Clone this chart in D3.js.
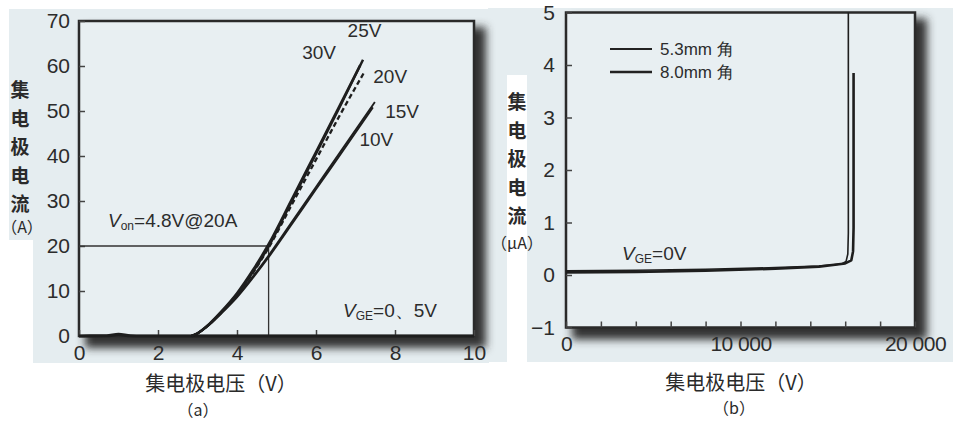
<!DOCTYPE html>
<html>
<head>
<meta charset="utf-8">
<script src="https://cdn.jsdelivr.net/npm/d3@7"></script>
<style>
  body { margin: 0; background: #fff; }
  text { font-family: "Liberation Sans", Arial, sans-serif; fill: #2c2c2c; }
  .cjk { font-family: "Noto Sans CJK SC", sans-serif; fill: #2a2a2a; }
</style>
</head>
<body>
<script>
// ---- data (a): collector current vs collector voltage, per gate voltage
let xTicksA = [0, 2, 4, 6, 8, 10]
let yTicksA = [0, 10, 20, 30, 40, 50, 60, 70]
let vge30 = [[2.85,0],[3.0,0.6],[3.3,2.7],[3.6,5.4],[4.0,9.5],[4.4,14.6],[4.8,20.4],[5.4,30.6],[6.0,40.9],[6.6,51.2],[7.12,60.2]]
let vge25 = [[2.85,0],[3.0,0.6],[3.3,2.6],[3.6,5.2],[4.0,9.2],[4.4,14.2],[4.8,19.9],[5.4,30.2],[6.0,40.5],[6.6,50.9],[7.19,61.4]]
let vge20 = [[2.85,0],[3.0,0.6],[3.3,2.6],[3.6,5.2],[4.0,9.1],[4.4,14],[4.8,19.6],[5.4,29.4],[6.0,39.2],[6.6,49],[7.22,58.6]]
let vge15 = [[2.85,0],[3.0,0.6],[3.3,2.6],[3.6,5.1],[4.0,8.8],[4.4,13.2],[4.8,17.9],[5.4,25.5],[6.0,33.1],[6.6,40.7],[7.49,52]]
let vge10 = [[2.85,0],[3.0,0.6],[3.3,2.5],[3.6,5],[4.0,8.6],[4.4,12.9],[4.8,17.5],[5.4,25],[6.0,32.6],[6.6,40.1],[7.44,50.8]]
let vge0 = [[0,0],[0.7,0.05],[1.0,0.35],[1.3,0.05],[1.6,0],[10,0]]
let curveLabels = [["30V",5.65,61.5],["25V",6.8,66.5],["20V",7.45,56.3],["15V",7.75,48.5],["10V",7.1,42.3]]
let vOn = 4.8, iOn = 20

// ---- data (b): leakage current vs collector voltage, two chip sizes
let xTicksB = [0, 2000, 4000, 6000, 8000, 10000, 12000, 14000, 16000, 18000, 20000]
let xLabelsB = [0, 10000, 20000]
let yTicksB = [-1, 0, 1, 2, 3, 4, 5]
let chip53 = [[0,0.08],[4000,0.09],[8000,0.11],[12000,0.14],[14500,0.17],[15800,0.21],[16050,0.26],[16150,0.4],[16180,0.8],[16180,5]]
let chip80 = [[0,0.05],[4000,0.06],[8000,0.08],[12000,0.12],[14500,0.16],[16000,0.22],[16350,0.28],[16450,0.45],[16480,0.9],[16480,3.85]]
let legendB = ["5.3mm 角", "8.0mm 角"]

let svg = d3.select("body").append("svg")
    .attr("width", 953)
    .attr("height", 422)

let defs = svg.append("defs")
defs.append("filter").attr("id", "shadow")
    .attr("x", "-10%").attr("y", "-10%").attr("width", "130%").attr("height", "130%")
  .append("feGaussianBlur").attr("stdDeviation", 4)

// scanned paper background
let paper = "#e5edf0"
svg.append("rect").attr("x", 9).attr("y", 9).attr("width", 480).attr("height", 354).attr("fill", paper)
svg.append("rect").attr("x", 0).attr("y", 240).attr("width", 33).attr("height", 130).attr("fill", "#fff")
svg.append("rect").attr("x", 488).attr("y", 8).attr("width", 465).attr("height", 354).attr("fill", paper)
svg.append("rect").attr("x", 507).attr("y", 75).attr("width", 20).attr("height", 300).attr("fill", "#fff")

let styleAxis = ax => {
  ax.select(".domain").remove()
  ax.selectAll("line").attr("stroke", "#444").attr("stroke-width", 1.5)
  ax.selectAll("text").attr("font-size", 21).attr("fill", "#3c3c3c")
    .attr("font-family", "Liberation Sans, Arial, sans-serif")
}

// ================= chart (a) =================
let xA = d3.scaleLinear().domain([0, 10]).range([79, 474])
let yA = d3.scaleLinear().domain([0, 70]).range([336, 21])

svg.append("rect")
    .attr("x", xA(0) + 6).attr("y", yA(70) + 6)
    .attr("width", xA(10) - xA(0) + 6).attr("height", yA(0) - yA(70) + 6)
    .attr("fill", "#333").attr("filter", "url(#shadow)")
svg.append("rect")
    .attr("x", xA(0)).attr("y", yA(70))
    .attr("width", xA(10) - xA(0)).attr("height", yA(0) - yA(70))
    .attr("fill", "#e8eff2").attr("stroke", "#2a2a2a").attr("stroke-width", 2.5)

let axA = svg.append("g").attr("transform", `translate(0,${yA(0)})`)
    .call(d3.axisBottom(xA).tickValues(xTicksA).tickSize(-6).tickPadding(9))
let ayA = svg.append("g").attr("transform", `translate(${xA(0)},0)`)
    .call(d3.axisLeft(yA).tickValues(yTicksA).tickSize(-6).tickPadding(9))
styleAxis(axA)
styleAxis(ayA)

// Von reference lines
svg.append("path")
    .attr("d", `M${xA(0)},${yA(iOn)}H${xA(vOn)}M${xA(vOn)},${yA(0)}V${yA(iOn)}`)
    .attr("fill", "none").attr("stroke", "#333").attr("stroke-width", 1.3)

let lineA = d3.line().x(d => xA(d[0])).y(d => yA(d[1])).curve(d3.curveMonotoneX)
let seriesA = [
  {d: vge0, w: 3.2, dash: null},
  {d: vge10, w: 1.9, dash: null},
  {d: vge15, w: 1.9, dash: null},
  {d: vge20, w: 2.3, dash: "5,3"},
  {d: vge25, w: 2.5, dash: null},
  {d: vge30, w: 2.5, dash: null}
]
svg.append("g").selectAll("path")
    .data(seriesA)
    .enter().append("path")
    .attr("d", s => lineA(s.d))
    .attr("fill", "none")
    .attr("stroke", "#1e1e1e")
    .attr("stroke-width", s => s.w)
    .attr("stroke-dasharray", s => s.dash)

svg.append("g").selectAll("text")
    .data(curveLabels)
    .enter().append("text")
    .attr("x", d => xA(d[1]))
    .attr("y", d => yA(d[2]))
    .attr("font-size", 19)
    .text(d => d[0])

let von = svg.append("text").attr("x", 108).attr("y", 227).attr("font-size", 19)
von.append("tspan").attr("font-style", "italic").text("V")
von.append("tspan").attr("font-size", 12).attr("dy", 3).text("on")
von.append("tspan").attr("dy", -3).text("=4.8V@20A")

let vgeA = svg.append("text").attr("x", 343).attr("y", 317).attr("font-size", 19)
vgeA.append("tspan").attr("font-style", "italic").text("V")
vgeA.append("tspan").attr("font-size", 12).attr("dy", 3).text("GE")
vgeA.append("tspan").attr("dy", -3).text("=0、5V")

// y title (vertical characters)
let yTitleA = ["集", "电", "极", "电", "流"]
svg.append("g").selectAll("text")
    .data(yTitleA)
    .enter().append("text")
    .attr("class", "cjk")
    .style("font-weight", 700)
    .attr("x", 20).attr("y", (d, i) => 97 + i * 28.5)
    .attr("text-anchor", "middle").attr("font-size", 19)
    .text(d => d)
svg.append("text").attr("class", "cjk").attr("x", 22).attr("y", 233)
    .attr("text-anchor", "middle").attr("font-size", 16)
    .text("（A）")

svg.append("text").attr("class", "cjk").attr("x", 221).attr("y", 391)
    .attr("text-anchor", "middle").attr("font-size", 20)
    .text("集电极电压（V）")
svg.append("text").attr("class", "cjk").attr("x", 198).attr("y", 416)
    .attr("text-anchor", "middle").attr("font-size", 16)
    .text("（a）")

// ================= chart (b) =================
let xB = d3.scaleLinear().domain([0, 20000]).range([566, 915])
let yB = d3.scaleLinear().domain([-1, 5]).range([327.5, 12.5])

svg.append("rect")
    .attr("x", xB(0) + 6).attr("y", yB(5) + 6)
    .attr("width", xB(20000) - xB(0) + 6).attr("height", yB(-1) - yB(5) + 6)
    .attr("fill", "#333").attr("filter", "url(#shadow)")
svg.append("rect")
    .attr("x", xB(0)).attr("y", yB(5))
    .attr("width", xB(20000) - xB(0)).attr("height", yB(-1) - yB(5))
    .attr("fill", "#e8eff2").attr("stroke", "#2a2a2a").attr("stroke-width", 2.5)

let fmtB = d => xLabelsB.includes(d) ? d3.format(",")(d).replace(",", " ") : ""
let axB = svg.append("g").attr("transform", `translate(0,${yB(-1)})`)
    .call(d3.axisBottom(xB).tickValues(xTicksB).tickFormat(fmtB).tickSize(-6).tickPadding(9))
let ayB = svg.append("g").attr("transform", `translate(${xB(0)},0)`)
    .call(d3.axisLeft(yB).tickValues(yTicksB).tickFormat(d => d < 0 ? "−" + Math.abs(d) : String(d))
      .tickSize(-6).tickPadding(11))
styleAxis(axB)
styleAxis(ayB)
axB.selectAll("text").attr("letter-spacing", -0.5)

let lineB = d3.line().x(d => xB(d[0])).y(d => yB(d[1]))
let seriesB = [
  {d: chip53, w: 1.6},
  {d: chip80, w: 2.6}
]
svg.append("g").selectAll("path")
    .data(seriesB)
    .enter().append("path")
    .attr("d", s => lineB(s.d))
    .attr("fill", "none")
    .attr("stroke", "#1e1e1e")
    .attr("stroke-width", s => s.w)
    .attr("stroke-linejoin", "round")

// legend
let leg = svg.append("g").selectAll("g")
    .data(legendB)
    .enter().append("g")
    .attr("transform", (d, i) => `translate(610,${49 + i * 23})`)
leg.append("line").attr("x1", 0).attr("x2", 42)
    .attr("stroke", "#222").attr("stroke-width", (d, i) => i ? 2.6 : 1.8)
leg.append("text").attr("x", 50).attr("y", 6).attr("font-size", 17)
    .text(d => d)

let vgeB = svg.append("text").attr("x", 622).attr("y", 260).attr("font-size", 19)
vgeB.append("tspan").attr("font-style", "italic").text("V")
vgeB.append("tspan").attr("font-size", 12).attr("dy", 3).text("GE")
vgeB.append("tspan").attr("dy", -3).text("=0V")

let yTitleB = ["集", "电", "极", "电", "流"]
svg.append("g").selectAll("text")
    .data(yTitleB)
    .enter().append("text")
    .attr("class", "cjk")
    .style("font-weight", 700)
    .attr("x", 517).attr("y", (d, i) => 109 + i * 28.5)
    .attr("text-anchor", "middle").attr("font-size", 19)
    .text(d => d)
svg.append("text").attr("class", "cjk").attr("x", 517).attr("y", 249)
    .attr("text-anchor", "middle").attr("font-size", 16)
    .text("（μA）")

svg.append("text").attr("class", "cjk").attr("x", 741).attr("y", 390)
    .attr("text-anchor", "middle").attr("font-size", 20)
    .text("集电极电压（V）")
svg.append("text").attr("class", "cjk").attr("x", 734).attr("y", 414)
    .attr("text-anchor", "middle").attr("font-size", 16)
    .text("（b）")
</script>
</body>
</html>
